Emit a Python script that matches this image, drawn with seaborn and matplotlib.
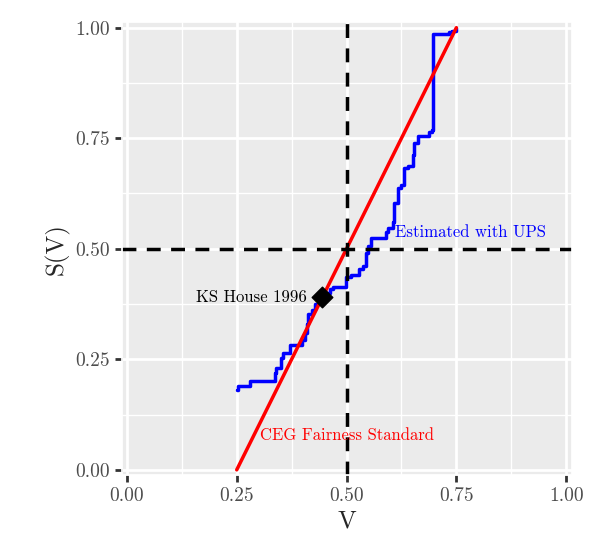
import numpy as np
import seaborn as sns
import matplotlib.pyplot as plt

# estimated step curve (V, S(V))
ups_v = [0.250, 0.252, 0.280, 0.337, 0.340, 0.351, 0.356, 0.372, 0.399, 0.405, 0.411, 0.413, 0.422,
         0.429, 0.437, 0.455, 0.463, 0.470, 0.498, 0.509, 0.528, 0.537, 0.544, 0.548, 0.555, 0.589,
         0.594, 0.606, 0.608, 0.617, 0.625, 0.631, 0.640, 0.651, 0.654, 0.663, 0.688, 0.695, 0.696,
         0.734, 0.739, 0.750]
ups_s = [0.181, 0.190, 0.202, 0.220, 0.230, 0.252, 0.264, 0.282, 0.294, 0.310, 0.330, 0.353, 0.362,
         0.376, 0.390, 0.400, 0.408, 0.413, 0.436, 0.440, 0.454, 0.460, 0.490, 0.507, 0.525, 0.537,
         0.546, 0.560, 0.603, 0.638, 0.645, 0.683, 0.687, 0.713, 0.740, 0.755, 0.764, 0.768, 0.986,
         0.990, 0.993, 1.000]
ceg_v = [0.25, 0.75]
ceg_s = [0.0, 1.0]
ks_v, ks_s = 0.445, 0.39

sns.set_theme(style="darkgrid", rc={"axes.facecolor": "#EBEBEB", "grid.color": "white"})
plt.rcParams["font.family"] = ["cmr10", "DejaVu Serif"]
plt.rcParams["axes.formatter.use_mathtext"] = True

fig, ax = plt.subplots(figsize=(6.08, 5.59), dpi=100)
sns.lineplot(x=ups_v, y=ups_s, drawstyle="steps-post", color="blue", lw=2.5, ax=ax, estimator=None, sort=False)
sns.lineplot(x=ceg_v, y=ceg_s, color="red", lw=2.5, ax=ax)
ax.axvline(0.5, color="black", ls=(0, (4, 3)), lw=2.5)
ax.axhline(0.5, color="black", ls=(0, (4, 3)), lw=2.5)
ax.scatter([ks_v], [ks_s], marker="D", s=110, color="black", zorder=5)
ax.text(0.41, 0.39, "KS House 1996", ha="right", va="center", fontsize=12, color="black")
ax.text(0.61, 0.537, "Estimated with UPS", ha="left", va="center", fontsize=12, color="blue")
ax.text(0.5, 0.078, "CEG Fairness Standard", ha="center", va="center", fontsize=12, color="red")

ticks = [0, 0.25, 0.5, 0.75, 1.0]
ax.set_xticks(ticks)
ax.set_yticks(ticks)
ax.set_xticklabels(["0.00", "0.25", "0.50", "0.75", "1.00"], fontsize=14, color="#4D4D4D")
ax.set_yticklabels(["0.00", "0.25", "0.50", "0.75", "1.00"], fontsize=14, color="#4D4D4D")
ax.set_xticks([0.125, 0.375, 0.625, 0.875], minor=True)
ax.set_yticks([0.125, 0.375, 0.625, 0.875], minor=True)
ax.grid(which="major", lw=2)
ax.grid(which="minor", lw=1)
ax.tick_params(which="major", length=5, width=2, color="#333333", left=True, bottom=True)
ax.tick_params(which="minor", length=0)
ax.set_xlim(-0.012, 1.012)
ax.set_ylim(-0.012, 1.012)
ax.set_xlabel("V", fontsize=18)
ax.set_ylabel("S(V)", fontsize=18)
fig.subplots_adjust(left=0.2, right=0.94, top=0.96, bottom=0.15)
fig.savefig("out.png")
